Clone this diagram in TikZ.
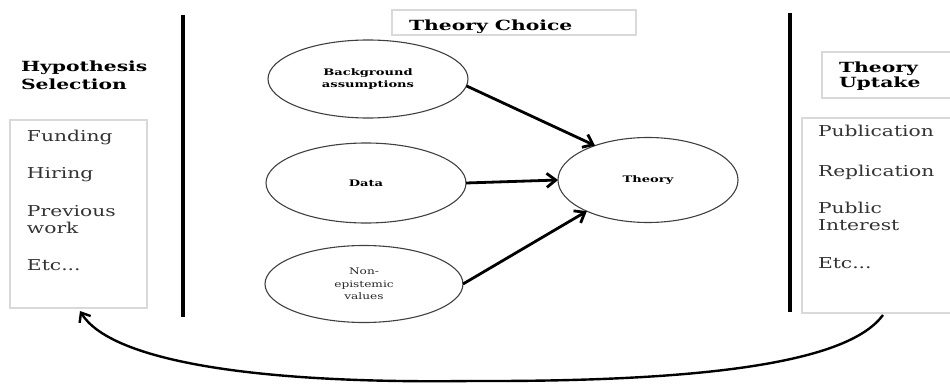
\documentclass[tikz,border=0pt]{standalone}
\usepackage{fontspec}
\setmainfont{DejaVu Serif}[FakeStretch=1.35, BoldFeatures={FakeStretch=1.45}]
\usetikzlibrary{shapes.geometric,arrows.meta}
\begin{document}
\begin{tikzpicture}[x=1pt,y=-1pt,
  every node/.style={inner sep=0pt, outer sep=0pt},
  graybox/.style={draw=black!15, line width=1.3pt, anchor=north west},
  openbox/.style={anchor=north west},
  boxline/.style={draw=black!15, line width=1.3pt},
  item/.style={anchor=base west, font=\fontsize{15}{18}\selectfont, text=black!80},
  head/.style={anchor=base west, font=\fontsize{14}{17}\selectfont\bfseries},
  oval/.style={ellipse, draw=black!75, line width=1.1pt, minimum width=200pt, minimum height=78pt},
  ovaltext/.style={font=\fontsize{9}{12}\selectfont\bfseries, align=center},
  divider/.style={line width=3.5pt},
  flow/.style={line width=2.8pt, -{Straight Barb[length=9pt,width=14pt]}},
  loop/.style={line width=2.4pt, -{Straight Barb[length=8pt,width=13pt]}},
]
\path[use as bounding box] (0,0) rectangle (950,385);

% dividers
\draw[divider] (183,15) -- (183,317);
\draw[divider] (790,13) -- (790,312);

% left column
\node[head] (hyp1) at (21,72) {Hypothesis};
\node[head] (hyp2) at (21,90) {Selection};
\node[graybox, minimum width=137pt, minimum height=188pt] (lbox) at (10,120) {};
\node[item] (fund) at (27,142) {Funding};
\node[item] (hire) at (27,178) {Hiring};
\node[item] (prev1) at (27,216) {Previous};
\node[item] (prev2) at (27,233) {work};
\node[item] (etcl) at (27,270) {Etc...};

% middle column
\node[graybox, minimum width=244pt, minimum height=25pt] (tcbox) at (392,10) {};
\node[head] (tc) at (409,31) {Theory Choice};

\node[oval, ovaltext] (bg) at (368,79) {Background\\assumptions};
\node[oval, ovaltext, minimum height=80pt] (dt) at (366,183) {Data};
\node[oval, minimum width=198pt, minimum height=77pt, font=\fontsize{9}{12.5}\selectfont, align=center, text=black!85] (nv) at (364,284) {Non-\\epistemic\\values};
\node[oval, minimum width=180pt, minimum height=85pt, ovaltext] (th) at (648,180) {Theory};

\draw[flow] (bg.-4) -- (th.147);
\draw[flow] (dt.east) -- (th.west);
\draw[flow] (nv.east) -- (th.207);

% right column (boxes run off the right edge)
\node[openbox, minimum width=128pt, minimum height=46pt] (upbox) at (822,52) {};
\draw[boxline] (upbox.north east) -- (upbox.north west) -- (upbox.south west) -- (upbox.south east);
\node[head] (up1) at (839,73) {Theory};
\node[head] (up2) at (839,88) {Uptake};
\node[openbox, minimum width=148pt, minimum height=195pt] (rbox) at (802,118) {};
\draw[boxline] (rbox.north east) -- (rbox.north west) -- (rbox.south west) -- (rbox.south east);
\node[item] (pub) at (818,137) {Publication};
\node[item] (rep) at (818,176) {Replication};
\node[item] (pi1) at (818,213) {Public};
\node[item] (pi2) at (818,230) {Interest};
\node[item] (etcr) at (818,268) {Etc...};

% feedback loop
\coordinate (cstart) at ([xshift=81pt,yshift=-2pt]rbox.south west);
\coordinate (cend) at ([xshift=70pt,yshift=-3pt]lbox.south west);
\draw[loop] (cstart) .. controls (850,360) and (720,382) .. (470,381)
            .. controls (250,384) and (110,360) .. (cend);
\end{tikzpicture}
\end{document}
